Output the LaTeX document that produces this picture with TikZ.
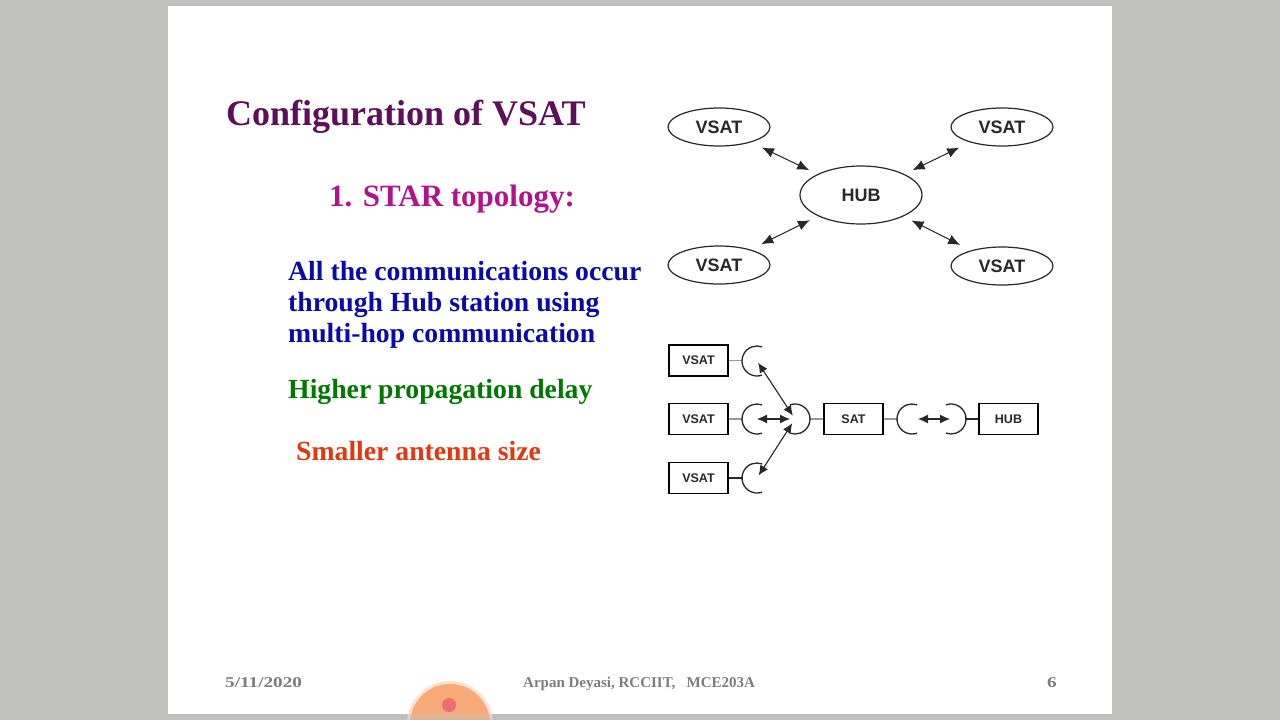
\documentclass[tikz,border=0pt]{standalone}
\usepackage{graphicx}
\usepackage{fontspec}
\setmainfont{Liberation Serif}
\newfontfamily\figfont{Liberation Sans}
\usepackage{tikz}
\usetikzlibrary{shapes.geometric,arrows.meta}
\definecolor{bggrey}{RGB}{192,193,191}
\definecolor{titlepurple}{RGB}{94,14,90}
\definecolor{starpink}{RGB}{178,18,140}
\definecolor{textblue}{RGB}{10,10,170}
\definecolor{textgreen}{RGB}{0,120,0}
\definecolor{textred}{RGB}{226,56,16}
\definecolor{footgrey}{RGB}{125,125,125}
\definecolor{inkgrey}{RGB}{40,40,40}
\definecolor{feedgrey}{RGB}{150,150,150}
\definecolor{blobor}{RGB}{246,170,120}
\definecolor{blobred}{RGB}{240,108,118}

\tikzset{
  ell/.style={ellipse,draw=inkgrey,line width=1.2pt,inner sep=0pt,minimum width=102pt,minimum height=38pt,
    text=inkgrey,font=\figfont\bfseries\fontsize{18}{18}\selectfont},
  boxn/.style={rectangle,draw=black,line width=1.5pt,inner sep=0pt,minimum width=59pt,minimum height=31pt,
    text=inkgrey,font=\figfont\bfseries\fontsize{12.5}{12.5}\selectfont},
  link/.style={{Latex[length=12pt,width=10pt]}-{Latex[length=12pt,width=10pt]},line width=1pt,draw=inkgrey,fill=black},
  linkS/.style={{Latex[length=10pt,width=9pt]}-{Latex[length=10pt,width=9pt]},line width=1.1pt,draw=inkgrey,fill=black},
  feed/.style={line width=1.6pt,draw=feedgrey},
  dish/.style={line width=1.3pt,draw=inkgrey},
  txt/.style={anchor=base west,inner sep=0pt,font=\bfseries\fontsize{27.7}{27.7}\selectfont},
  foot/.style={anchor=base west,inner sep=0pt,text=footgrey,font=\bfseries\fontsize{15}{15}\selectfont}
}

\begin{document}
\begin{tikzpicture}[x=1pt,y=-1pt]
    \fill[bggrey] (0,0) rectangle (1280,720); \fill[white] (168,6) rectangle (1112,714);
    \useasboundingbox (0,0) rectangle (1280,720);

    % slide text
    \node[txt,text=titlepurple,font=\bfseries\fontsize{36}{36}\selectfont] (title) at (226,125) {Configuration of VSAT};
    \node[txt,text=starpink,font=\bfseries\fontsize{31}{31}\selectfont] (star) at (329,206) {1. STAR topology:};
    \node[txt,text=textblue] (comA) at (288,280) {All the communications occur};
    \node[txt,text=textblue] (comB) at (288,311.5) {through Hub station using};
    \node[txt,text=textblue] (comC) at (288,342) {multi-hop communication};
    \node[txt,text=textgreen] (delay) at (288,398) {Higher propagation delay};
    \node[txt,text=textred] (antsize) at (296,460) {Smaller antenna size};

    \node[foot] (date) at (225,687) {\scalebox{1.28}[1]{5/11/2020}};
    \node[foot] (author) at (523,687) {Arpan Deyasi, RCCIIT,\ \ \ MCE203A};
    \node[foot] (page) at (1047,687) {\scalebox{1.28}[1]{6}};

    % star of ellipses
    \node[ell] (vsatNW) at (719,127) {VSAT};
    \node[ell] (vsatNE) at (1002,127) {VSAT};
    \node[ell,minimum width=122pt,minimum height=58pt] (hubT) at (861,195) {HUB};
    \node[ell] (vsatSW) at (719,265) {VSAT};
    \node[ell] (vsatSE) at (1002,266) {VSAT};
    \foreach \v in {vsatNW,vsatNE,vsatSW,vsatSE} \draw[link,shorten <=12pt,shorten >=9pt] (\v) -- (hubT);

    % boxes and dishes
    \node[boxn] (boxA) at (698.5,360.5) {VSAT};
    \node[boxn] (boxB) at (698.5,419) {VSAT};
    \node[boxn] (boxC) at (698.5,478) {VSAT};
    \node[boxn] (sat) at (853.5,419) {SAT};
    \node[boxn] (hubB) at (1008.5,419) {HUB};
    \coordinate (dishA) at (757,361); \coordinate (dishB) at (757,419); \coordinate (dishC) at (757,478);
    \coordinate (dishS) at (795,419); \coordinate (dishR) at (912,419); \coordinate (dishH) at (951,419);

    \draw[feed] (boxA.east) -- ++(14,0); \draw[feed] (boxB.east) -- ++(14,0); \draw[feed,draw=inkgrey] (boxC.east) -- ++(14,0);
    \draw[feed] (sat.west) -- ++(-14,0); \draw[feed] (sat.east) -- ++(14,0); \draw[feed,draw=inkgrey] (hubB.west) -- ++(-13,0);
    \foreach \d in {dishA,dishB,dishC,dishR} \draw[dish] (\d) ++(70:15) arc[start angle=70,end angle=290,radius=15];
    \foreach \d in {dishS,dishH} \draw[dish] (\d) ++(-110:15) arc[start angle=-110,end angle=110,radius=15];

    \draw[linkS,shorten <=2pt,shorten >=4pt] (dishA) -- (dishS);
    \draw[linkS,shorten >=5pt] (dishB) -- (dishS);
    \draw[linkS,shorten <=3pt,shorten >=5pt] (dishC) -- (dishS);
    \draw[linkS,shorten <=6pt,shorten >=1pt] (dishR) -- (dishH);

    % pointer blob
    \begin{scope}
        \clip (0,0) rectangle (1280,720);
        \fill[blobor!35] (450,724) circle (43); \fill[blobor] (450,724) circle (40);
        \fill[blobred] (449,705) circle (7);
        \fill[bggrey,opacity=0.45] (400,714) rectangle (500,720);
    \end{scope}
\end{tikzpicture}
\end{document}
